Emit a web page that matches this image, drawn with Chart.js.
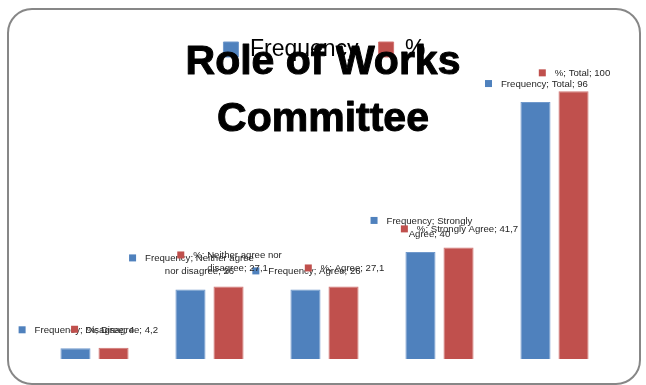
<!DOCTYPE html>
<html>
<head>
<meta charset="utf-8">
<script src="https://cdn.jsdelivr.net/npm/chart.js@4.4.0/dist/chart.umd.min.js"></script>
<style>
  html, body { margin: 0; padding: 0; background: #fff; }
</style>
</head>
<body>
<canvas id="chart" width="646" height="385"></canvas>
<script>
var categories = ['Disagree', 'Neither agree nor disagree', 'Agree', 'Strongly Agree', 'Total'];
var frequency = [4, 26, 26, 40, 96];
var percent = [4.2, 27.1, 27.1, 41.7, 100];
var seriesNames = ['Frequency', '%'];
var titleLines = ['Role of Works', 'Committee'];

var fontFamily = '"Liberation Sans", Arial, sans-serif';

// rounded frame round the whole chart
var framePlugin = {
    id: 'frame',
    beforeDraw: function (chart) {
        var ctx = chart.ctx;
        var x = 8, y = 9, w = 632, h = 375, r = 24;
        ctx.save();
        ctx.fillStyle = '#fff';
        ctx.fillRect(0, 0, chart.width, chart.height);
        ctx.beginPath();
        ctx.moveTo(x + r, y);
        ctx.arcTo(x + w, y, x + w, y + h, r);
        ctx.arcTo(x + w, y + h, x, y + h, r);
        ctx.arcTo(x, y + h, x, y, r);
        ctx.arcTo(x, y, x + w, y, r);
        ctx.closePath();
        ctx.lineWidth = 2;
        ctx.strokeStyle = '#878787';
        ctx.stroke();
        ctx.restore();
    }
};

function wrapWords(ctx, text, maxW) {
    var words = text.split(' '), lines = [], cur = '';
    words.forEach(function (w) {
        var test = cur ? cur + ' ' + w : w;
        if (cur && ctx.measureText(test).width > maxW) {
            lines.push(cur);
            cur = w;
        } else {
            cur = test;
        }
    });
    if (cur) lines.push(cur);
    return lines;
}

// "series; category; value" labels with a small colour key, above each bar
var labelPlugin = {
    id: 'barLabels',
    afterDatasetsDraw: function (chart) {
        var ctx = chart.ctx;
        ctx.save();
        ctx.font = '9.6px ' + fontFamily;
        ctx.textAlign = 'center';
        ctx.textBaseline = 'alphabetic';
        chart.data.datasets.forEach(function (ds, di) {
            chart.getDatasetMeta(di).data.forEach(function (bar, i) {
                var text = ds.label + '; ' + chart.data.labels[i] + '; ' + String(ds.data[i]).replace('.', ',');
                var lines = wrapWords(ctx, text, 110);
                var tw = Math.max.apply(null, lines.map(function (l) { return ctx.measureText(l).width; }));
                var key = 7, gap = 9, lineH = 13;
                var left = bar.x - (key + gap + tw) / 2 + 1;
                var textCx = left + key + gap + tw / 2;
                var baseY = bar.y - 15 - (lines.length - 1) * lineH;
                ctx.fillStyle = ds.backgroundColor;
                ctx.fillRect(left, baseY - 7, key, key);
                ctx.fillStyle = '#262626';
                lines.forEach(function (l, k) {
                    ctx.fillText(l, textCx, baseY + k * lineH);
                });
            });
        });
        ctx.restore();
    }
};

// big title, painted last so it sits over the legend
var titlePlugin = {
    id: 'bigTitle',
    afterDraw: function (chart) {
        var ctx = chart.ctx;
        ctx.save();
        ctx.font = 'bold 41px ' + fontFamily;
        ctx.fillStyle = '#000';
        ctx.strokeStyle = '#000';
        ctx.lineWidth = 1;
        ctx.lineJoin = 'round';
        ctx.textAlign = 'center';
        ctx.textBaseline = 'alphabetic';
        titleLines.forEach(function (t, i) {
            var y = 74 + i * 57;
            ctx.fillText(t, chart.width / 2, y);
            ctx.strokeText(t, chart.width / 2, y);
        });
        ctx.restore();
    }
};

new Chart(document.getElementById('chart'), {
    type: 'bar',
    data: {
        labels: categories,
        datasets: [{
            label: seriesNames[0],
            data: frequency,
            backgroundColor: '#4F81BD',
            borderColor: '#7099cc',
            borderWidth: 1
        }, {
            label: seriesNames[1],
            data: percent,
            backgroundColor: '#C0504D',
            borderColor: '#d27573',
            borderWidth: 1
        }]
    },
    options: {
        responsive: false,
        animation: false,
        devicePixelRatio: 1,
        layout: {
            padding: { top: 18, left: 37, right: 34, bottom: 26 }
        },
        datasets: {
            bar: {
                barPercentage: 0.79,
                categoryPercentage: 0.662
            }
        },
        scales: {
            x: { display: false },
            y: { display: false, min: 0, max: 107.6 }
        },
        plugins: {
            legend: {
                position: 'top',
                labels: {
                    boxWidth: 15,
                    boxHeight: 15,
                    padding: 20,
                    color: '#000',
                    font: { size: 23, family: fontFamily }
                }
            },
            tooltip: { enabled: false }
        }
    },
    plugins: [framePlugin, labelPlugin, titlePlugin]
});
</script>
</body>
</html>
